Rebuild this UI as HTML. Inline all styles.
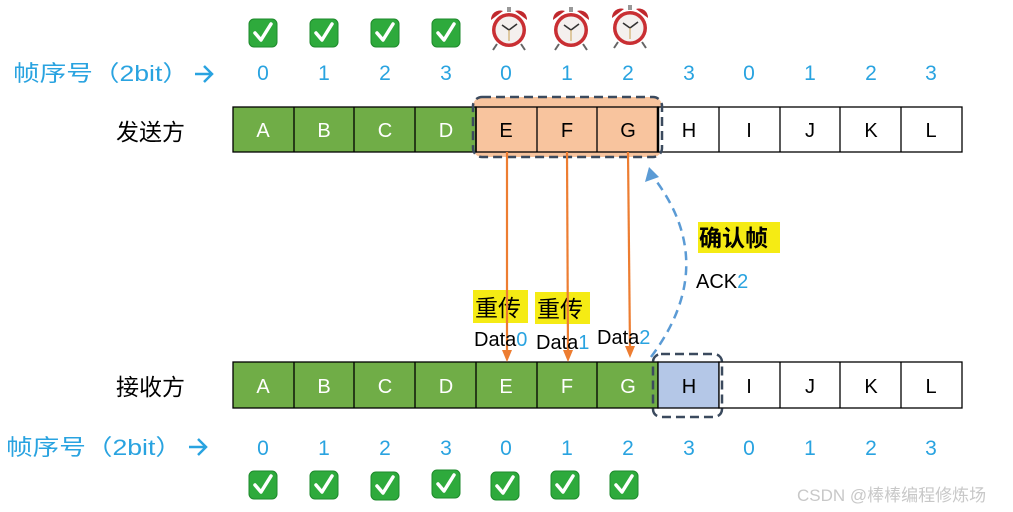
<!DOCTYPE html>
<html><head><meta charset="utf-8"><style>
html,body{margin:0;padding:0;background:#fff;}
svg{display:block}
text{font-family:"Liberation Sans","Noto Sans CJK SC",sans-serif;}
</style></head><body>
<svg width="1013" height="512" viewBox="0 0 1013 512" xmlns="http://www.w3.org/2000/svg">
<defs>
<g id="chk"><rect x="-14" y="-14" width="28" height="28" rx="5" fill="#2eaa3c" stroke="#1e8a2c" stroke-width="1"/><path d="M-8,0 L-2,7 L8,-9" fill="none" stroke="#fff" stroke-width="3.5" stroke-linecap="round" stroke-linejoin="round"/></g>
<g id="clk"><path d="M-18,-10 A9,9 0 0 1 -6,-19 Z" fill="#c0282d"/><path d="M18,-10 A9,9 0 0 0 6,-19 Z" fill="#c0282d"/><rect x="-2" y="-23" width="4" height="5" fill="#999"/><line x1="-12" y1="14" x2="-16" y2="20" stroke="#666" stroke-width="2"/><line x1="12" y1="14" x2="16" y2="20" stroke="#666" stroke-width="2"/><circle r="17" fill="#c92f33"/><circle r="13.5" fill="#f4f0ee"/><line x1="0" y1="0" x2="-7" y2="-5" stroke="#333" stroke-width="1.6"/><line x1="0" y1="0" x2="8" y2="-6" stroke="#333" stroke-width="1.6"/><line x1="0" y1="0" x2="0" y2="11" stroke="#c9a050" stroke-width="1"/></g>
</defs>

<use href="#chk" x="263" y="33"/><use href="#chk" x="324" y="33"/><use href="#chk" x="385" y="33"/><use href="#chk" x="446" y="33"/>
<use href="#clk" x="509" y="30"/><use href="#clk" x="571" y="30"/><use href="#clk" x="630" y="28"/>

<g fill="#29a3e0" font-size="21" text-anchor="middle">
<text x="263" y="80">0</text><text x="324" y="80">1</text><text x="385" y="80">2</text><text x="446" y="80">3</text><text x="506" y="80">0</text><text x="567" y="80">1</text><text x="628" y="80">2</text><text x="689" y="80">3</text><text x="749" y="80">0</text><text x="810" y="80">1</text><text x="871" y="80">2</text><text x="931" y="80">3</text>
</g>
<text x="13" y="81" fill="#29a3e0" font-size="22" textLength="176" lengthAdjust="spacingAndGlyphs">帧序号（2bit）</text>
<path d="M195,74 H211 M204,66 L212,74 L204,82" fill="none" stroke="#29a3e0" stroke-width="2.5"/>

<text x="116" y="140" font-size="23" fill="#000">发送方</text>
<text x="116" y="395" font-size="23" fill="#000">接收方</text>

<rect x="473" y="97" width="189" height="60" rx="9" fill="#f8c49e"/>
<g stroke="#000" stroke-width="1.3">
<rect x="233" y="107" width="243" height="45" fill="#70ad47"/>
<rect x="476" y="107" width="182" height="45" fill="none"/>
<rect x="658" y="107" width="304" height="45" fill="#fff"/>
<line x1="294" y1="107" x2="294" y2="152"/><line x1="354" y1="107" x2="354" y2="152"/><line x1="415" y1="107" x2="415" y2="152"/><line x1="476" y1="107" x2="476" y2="152"/><line x1="537" y1="107" x2="537" y2="152"/><line x1="597" y1="107" x2="597" y2="152"/><line x1="719" y1="107" x2="719" y2="152"/><line x1="780" y1="107" x2="780" y2="152"/><line x1="840" y1="107" x2="840" y2="152"/><line x1="901" y1="107" x2="901" y2="152"/>
</g>
<line x1="658" y1="107" x2="658" y2="152" stroke="#000" stroke-width="2.5"/>
<rect x="473" y="97" width="189" height="60" rx="9" fill="none" stroke="#3b4a5e" stroke-width="2.5" stroke-dasharray="9,5"/>
<g font-size="20" text-anchor="middle">
<text x="263" y="137" fill="#fff">A</text><text x="324" y="137" fill="#fff">B</text><text x="385" y="137" fill="#fff">C</text><text x="446" y="137" fill="#fff">D</text>
<text x="506" y="137">E</text><text x="567" y="137">F</text><text x="628" y="137">G</text><text x="689" y="137">H</text><text x="749" y="137">I</text><text x="810" y="137">J</text><text x="871" y="137">K</text><text x="931" y="137">L</text>
</g>

<g stroke="#000" stroke-width="1.3">
<rect x="233" y="362" width="425" height="46" fill="#70ad47"/>
<rect x="658" y="362" width="61" height="46" fill="#b4c7e7"/>
<rect x="719" y="362" width="243" height="46" fill="#fff"/>
<line x1="294" y1="362" x2="294" y2="408"/><line x1="354" y1="362" x2="354" y2="408"/><line x1="415" y1="362" x2="415" y2="408"/><line x1="476" y1="362" x2="476" y2="408"/><line x1="537" y1="362" x2="537" y2="408"/><line x1="597" y1="362" x2="597" y2="408"/><line x1="780" y1="362" x2="780" y2="408"/><line x1="840" y1="362" x2="840" y2="408"/><line x1="901" y1="362" x2="901" y2="408"/>
</g>
<rect x="653" y="354" width="69" height="63" rx="8" fill="none" stroke="#3b4a5e" stroke-width="2.5" stroke-dasharray="9,5"/>
<g font-size="20" text-anchor="middle">
<text x="263" y="393" fill="#fff">A</text><text x="324" y="393" fill="#fff">B</text><text x="385" y="393" fill="#fff">C</text><text x="446" y="393" fill="#fff">D</text><text x="506" y="393" fill="#fff">E</text><text x="567" y="393" fill="#fff">F</text><text x="628" y="393" fill="#fff">G</text>
<text x="689" y="393">H</text><text x="749" y="393">I</text><text x="810" y="393">J</text><text x="871" y="393">K</text><text x="931" y="393">L</text>
</g>

<g fill="#29a3e0" font-size="21" text-anchor="middle">
<text x="263" y="455">0</text><text x="324" y="455">1</text><text x="385" y="455">2</text><text x="446" y="455">3</text><text x="506" y="455">0</text><text x="567" y="455">1</text><text x="628" y="455">2</text><text x="689" y="455">3</text><text x="749" y="455">0</text><text x="810" y="455">1</text><text x="871" y="455">2</text><text x="931" y="455">3</text>
</g>
<text x="6" y="455" fill="#29a3e0" font-size="22" textLength="176" lengthAdjust="spacingAndGlyphs">帧序号（2bit）</text>
<path d="M189,447 H205 M198,439 L206,447 L198,455" fill="none" stroke="#29a3e0" stroke-width="2.5"/>

<use href="#chk" x="263" y="485"/><use href="#chk" x="324" y="485"/><use href="#chk" x="385" y="486"/><use href="#chk" x="446" y="484"/><use href="#chk" x="505" y="486"/><use href="#chk" x="565" y="485"/><use href="#chk" x="624" y="485"/>

<!-- labels under arrows -->
<rect x="473" y="290" width="55" height="33" fill="#f5eb14"/>
<rect x="535" y="292" width="55" height="32" fill="#f5eb14"/>
<text x="475" y="316" font-size="23" font-family="'Noto Serif CJK SC',serif">重传</text>
<text x="537" y="317" font-size="23" font-family="'Noto Serif CJK SC',serif">重传</text>

<g stroke="#ed7d31" stroke-width="2.2">
<line x1="507" y1="152" x2="507" y2="352"/><line x1="567" y1="152" x2="568" y2="352"/><line x1="628" y1="152" x2="630" y2="348"/>
</g>
<g fill="#ed7d31">
<path d="M502,350 L512,350 L507,362 Z"/><path d="M563,350 L573,350 L568,362 Z"/><path d="M625,346 L635,346 L630,358 Z"/>
</g>

<text x="474" y="346" font-size="20">Data<tspan fill="#29a3e0">0</tspan></text>
<text x="536" y="349" font-size="20">Data<tspan fill="#29a3e0">1</tspan></text>
<text x="597" y="344" font-size="20">Data<tspan fill="#29a3e0">2</tspan></text>

<path d="M651,357 Q720,265 654,178" fill="none" stroke="#5b9bd5" stroke-width="2.5" stroke-dasharray="9,6"/>
<path d="M649,167 L645,182 L659,177 Z" fill="#5b9bd5"/>

<rect x="698" y="222" width="82" height="31" fill="#f5eb14"/>
<text x="699" y="246" font-size="23" font-weight="bold">确认帧</text>
<text x="696" y="288" font-size="20">ACK<tspan fill="#29a3e0">2</tspan></text>

<text x="797" y="501" font-size="17" fill="#c8c8c8">CSDN @棒棒编程修炼场</text>
</svg>
</body></html>
